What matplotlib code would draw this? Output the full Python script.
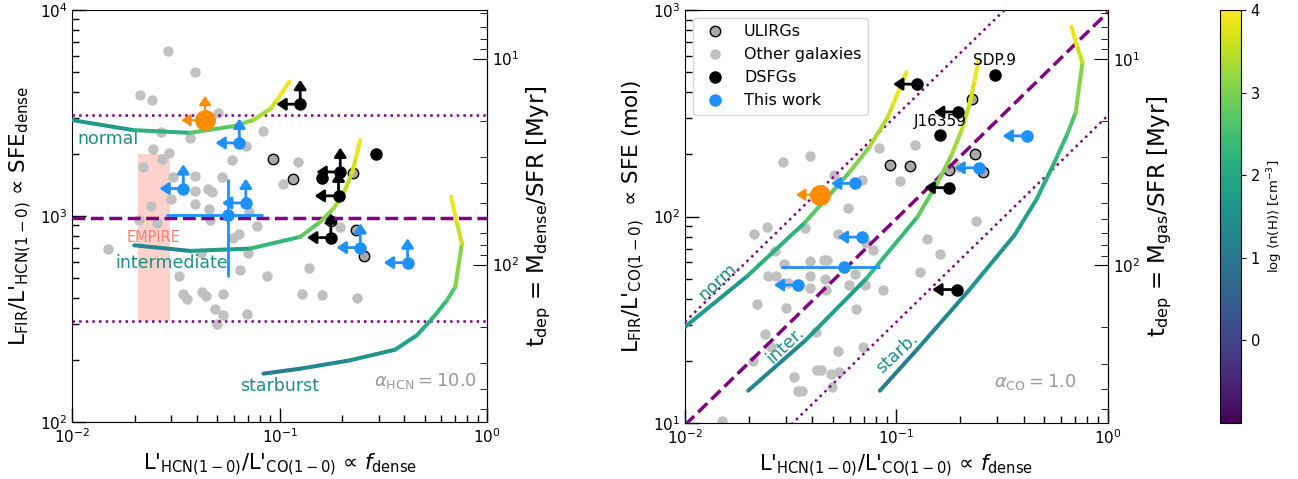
import numpy as np
import matplotlib
matplotlib.use('Agg')
import matplotlib.pyplot as plt
from matplotlib.collections import LineCollection
from matplotlib.colors import Normalize
from matplotlib.cm import ScalarMappable


# other galaxies (f_dense, L_FIR/L'HCN)
other_fdense = [0.0290, 0.0391, 0.0212, 0.0243, 0.0506, 0.0267, 0.0370, 0.0830, 0.0687, 0.0246,
                0.0293, 0.0270, 0.0588, 0.0220, 0.1036, 0.0307, 0.0391, 0.0530, 0.0453, 0.0471,
                0.0391, 0.0299, 0.0391, 0.0240, 0.0458, 0.0715, 0.0776, 0.0462, 0.0210, 0.0255,
                0.0640, 0.0598, 0.0149, 0.0707, 0.0416, 0.0645, 0.0867, 0.0328, 0.0341, 0.0359,
                0.0421, 0.0442, 0.0532, 0.0488, 0.0535, 0.0695, 0.0498, 0.1224, 0.1392, 0.1288,
                0.1598, 0.2373, 0.1959]
other_sfe_dense = [6320, 5012, 3864, 3652, 3148, 2563, 2381, 2592, 2184, 2104,
                   2013, 1902, 1867, 1721, 1438, 1549, 1561, 1549, 1360, 1310,
                   1324, 1203, 1150, 1119, 1087, 1047, 892, 954, 954, 920,
                   822, 778, 690, 662, 662, 550, 510, 510, 420, 397,
                   428, 408, 420, 355, 330, 336, 300, 1820, 560, 420,
                   412, 400, 885]

# ULIRGs
ulirg_fdense = [0.0933, 0.1164, 0.227, 0.234, 0.2564, 0.1774]
ulirg_sfe_dense = [1901, 1510, 1626, 859, 638, 944]

# DSFGs
dsfg_fdense = [0.1256, 0.291, 0.196, 0.1607, 0.1923, 0.1766]
dsfg_sfe_dense = [3491, 1995, 1637, 1538, 1253, 786]
dsfg_sfe_mol = [438, 484, 321, 247, 44.3, 138]
dsfg_limit = [True, False, True, False, True, True]
dsfg_names = ['', 'SDP.9', '', 'J16359', '', '']

# this work
tw_fdense = [0.0639, 0.0343, 0.0687, 0.0562, 0.245, 0.414]
tw_sfe_dense = [2265, 1360, 1158, 1016, 703, 594]
tw_limit = [True, True, True, False, True, True]
# detected source: error ranges
tw_det_fdense_range = [0.0283, 0.0835]
tw_det_sfe_range = [506, 1510]

# orange source
orange_fdense = 0.0437
orange_sfe_dense = 2920

# model tracks
normal_fdense = [0.01, 0.0197, 0.0370, 0.0598, 0.0747, 0.0907, 0.0969, 0.1114]
normal_sfe = [2922, 2612, 2535, 2731, 2922, 3328, 3652, 4487]
normal_logn = [1.5, 1.9, 2.5, 2.9, 3.2, 3.5, 3.7, 4.0]

inter_fdense = [0.0199, 0.0370, 0.0720, 0.1256, 0.1568, 0.1817, 0.2031, 0.2230, 0.2339, 0.2445]
inter_sfe = [721, 677, 695, 792, 936, 1087, 1286, 1609, 1937, 2335]
inter_logn = [1.1, 1.5, 2.1, 2.6, 2.95, 3.2, 3.4, 3.6, 3.8, 4.0]

starb_fdense = [0.0835, 0.1256, 0.2188, 0.3608, 0.459, 0.5524, 0.6409, 0.7029, 0.757, 0.7108, 0.672]
starb_sfe = [171.7, 181.5, 199.3, 224.6, 263.6, 323.3, 389.8, 452.4, 735.3, 954, 1238]
starb_logn = [1.0, 1.2, 1.45, 1.75, 2.0, 2.25, 2.5, 2.75, 3.4, 3.75, 4.0]

# reference SFE line and scatter
sfe_ref = 977
sfe_scatter_dex = 0.5

# EMPIRE range
empire_fdense = [0.0207, 0.0296]
empire_sfe = [310, 2000]

alpha_hcn = 10.0
alpha_co = 1.0
sfr_per_lfir = 1.72e-10

teal = '#1a8f88'
arrow_x = 10**-0.115
arrow_y = 10**0.118
norm = Normalize(vmin=-1, vmax=4)
cmap = plt.get_cmap('viridis')

xlabel = r"L'$_{\rm HCN(1-0)}$/L'$_{\rm CO(1-0)}$ ∝ $f_{\rm dense}$"


def draw_track(ax, x, y, logn):
    segs = [[(x[i], y[i]), (x[i + 1], y[i + 1])] for i in range(len(x) - 1)]
    cols = [cmap(norm(0.5 * (logn[i] + logn[i + 1]))) for i in range(len(x) - 1)]
    lc = LineCollection(segs, colors=cols, linewidths=2.9, zorder=4)
    lc.set_capstyle('round')
    ax.add_collection(lc)


def limit_arrow(ax, x, y, fx=1.0, fy=1.0, color='k', lw=2.0, z=5):
    ax.annotate('', xy=(x * fx, y * fy), xytext=(x, y),
                arrowprops=dict(arrowstyle='-|>,head_length=0.45,head_width=0.3',
                                color=color, lw=lw, shrinkA=0, shrinkB=0,
                                mutation_scale=12), zorder=z)


def style_axes(ax):
    ax.set_xscale('log')
    ax.set_yscale('log')
    ax.tick_params(which='both', direction='in', labelsize=11, right=False, top=False)
    ax.tick_params(which='major', length=10, width=1)
    ax.tick_params(which='minor', length=5, width=1)


def twin_axis(ax, k, label):
    sec = ax.secondary_yaxis('right', functions=(lambda v: k / np.asarray(v, float),
                                                 lambda v: k / np.asarray(v, float)))
    sec.set_yticks([1e1, 1e2])
    sec.tick_params(which='both', direction='in', labelsize=11)
    sec.tick_params(which='major', length=10)
    sec.tick_params(which='minor', length=5)
    sec.set_ylabel(label, fontsize=16.5)
    return sec


fig = plt.figure(figsize=(12.98, 4.79), dpi=100)
ax1 = fig.add_axes([0.0557, 0.119, 0.3195, 0.860])
ax2 = fig.add_axes([0.5277, 0.1169, 0.3259, 0.862])
cax = fig.add_axes([1220 / 1298, 56 / 479, 21 / 1298, 413 / 479])

other_x = np.array(other_fdense)
other_y = np.array(other_sfe_dense)
ul_x = np.array(ulirg_fdense)
ul_y = np.array(ulirg_sfe_dense)
tw_x = np.array(tw_fdense)
tw_y = np.array(tw_sfe_dense)

# ---------------- left panel: SFE_dense
style_axes(ax1)
ax1.fill_between(empire_fdense, empire_sfe[0], empire_sfe[1], color='salmon', alpha=0.35,
                 lw=0, zorder=1)
ax1.text(np.sqrt(empire_fdense[0] * empire_fdense[1]), 790, 'EMPIRE', color='salmon',
         fontsize=10.5, ha='center', va='center', zorder=2)
ax1.plot(other_x, other_y, 'o', color='silver', ms=7.5, mew=0, zorder=2)
ax1.plot(ul_x, ul_y, 'o', mfc='darkgray', mec='k', ms=7.5, mew=1, zorder=2)
ax1.axhline(sfe_ref, color='purple', ls='--', lw=2.5, zorder=3)
ax1.axhline(sfe_ref * 10**sfe_scatter_dex, color='purple', ls=':', lw=1.8, zorder=3)
ax1.axhline(sfe_ref / 10**sfe_scatter_dex, color='purple', ls=':', lw=1.8, zorder=3)

draw_track(ax1, normal_fdense, normal_sfe, normal_logn)
draw_track(ax1, inter_fdense, inter_sfe, inter_logn)
draw_track(ax1, starb_fdense, starb_sfe, starb_logn)

for x, y, lim in zip(dsfg_fdense, dsfg_sfe_dense, dsfg_limit):
    if lim:
        limit_arrow(ax1, x, y, fx=arrow_x, color='k')
        limit_arrow(ax1, x, y, fy=arrow_y, color='k')
ax1.plot(dsfg_fdense, dsfg_sfe_dense, 'o', color='k', ms=8, zorder=6)

for x, y, lim in zip(tw_x, tw_y, tw_limit):
    if lim:
        limit_arrow(ax1, x, y, fx=arrow_x, color='dodgerblue')
        limit_arrow(ax1, x, y, fy=arrow_y, color='dodgerblue')
det = [i for i, l in enumerate(tw_limit) if not l][0]
ax1.errorbar(tw_x[det], tw_y[det],
             xerr=[[tw_x[det] - tw_det_fdense_range[0]], [tw_det_fdense_range[1] - tw_x[det]]],
             yerr=[[tw_y[det] - tw_det_sfe_range[0]], [tw_det_sfe_range[1] - tw_y[det]]],
             fmt='none', ecolor='dodgerblue', elinewidth=2, capsize=0, zorder=5)
ax1.plot(tw_x, tw_y, 'o', color='dodgerblue', ms=8, zorder=6)

limit_arrow(ax1, orange_fdense, orange_sfe_dense, fx=arrow_x, color='darkorange', lw=1.5)
limit_arrow(ax1, orange_fdense, orange_sfe_dense, fy=arrow_y, color='darkorange', lw=1.5)
ax1.plot(orange_fdense, orange_sfe_dense, 'o', color='darkorange', ms=14, zorder=6)

ax1.text(0.0106, 2360, 'normal', color=teal, fontsize=12.5, va='center')
ax1.text(0.0161, 590, 'intermediate', color=teal, fontsize=12.5, va='center')
ax1.text(0.0644, 149, 'starburst', color=teal, fontsize=12.5, va='center')
ax1.text(0.976, 0.10, r'$\alpha_{\rm HCN} = $' + f'{alpha_hcn:.1f}', color='#999999',
         fontsize=13, ha='right', va='center', transform=ax1.transAxes)

ax1.set_xlim(1e-2, 1)
ax1.set_ylim(1e2, 1e4)
ax1.set_xlabel(xlabel, fontsize=15)
ax1.set_ylabel(r"L$_{\rm FIR}$/L'$_{\rm HCN(1-0)}$ ∝ SFE$_{\rm dense}$", fontsize=15.5)
twin_axis(ax1, alpha_hcn / (sfr_per_lfir * 1e6),
          r"t$_{\rm dep}$ = M$_{\rm dense}$/SFR [Myr]")

# ---------------- right panel: SFE (mol)
style_axes(ax2)
h_other, = ax2.plot(other_x, other_y * other_x, 'o', color='silver', ms=7.5, mew=0, zorder=2,
                    label='Other galaxies')
h_ul, = ax2.plot(ul_x, ul_y * ul_x, 'o', mfc='darkgray', mec='k', ms=7.5, mew=1, zorder=2,
                 label='ULIRGs')
xx = np.array([1e-2, 1.0])
ax2.plot(xx, sfe_ref * xx, color='purple', ls='--', lw=2.5, zorder=3)
ax2.plot(xx, sfe_ref * 10**sfe_scatter_dex * xx, color='purple', ls=':', lw=1.8, zorder=3)
ax2.plot(xx, sfe_ref / 10**sfe_scatter_dex * xx, color='purple', ls=':', lw=1.8, zorder=3)

draw_track(ax2, normal_fdense, np.array(normal_sfe) * np.array(normal_fdense), normal_logn)
draw_track(ax2, inter_fdense, np.array(inter_sfe) * np.array(inter_fdense), inter_logn)
draw_track(ax2, starb_fdense, np.array(starb_sfe) * np.array(starb_fdense), starb_logn)

for x, y, lim, name in zip(dsfg_fdense, dsfg_sfe_mol, dsfg_limit, dsfg_names):
    if lim:
        limit_arrow(ax2, x, y, fx=arrow_x, color='k')
    if name:
        ax2.annotate(name, (x, y), xytext=(0, 5), textcoords='offset points',
                     ha='center', va='bottom', fontsize=11, zorder=7)
h_dsfg, = ax2.plot(dsfg_fdense, dsfg_sfe_mol, 'o', color='k', ms=8, zorder=6, label='DSFGs')

for x, y, lim in zip(tw_x, tw_y * tw_x, tw_limit):
    if lim:
        limit_arrow(ax2, x, y, fx=arrow_x, color='dodgerblue')
ax2.errorbar(tw_x[det], tw_y[det] * tw_x[det],
             xerr=[[tw_x[det] - tw_det_fdense_range[0]], [tw_det_fdense_range[1] - tw_x[det]]],
             fmt='none', ecolor='dodgerblue', elinewidth=2, capsize=0, zorder=5)
h_tw, = ax2.plot(tw_x, tw_y * tw_x, 'o', color='dodgerblue', ms=8, zorder=6, label='This work')

limit_arrow(ax2, orange_fdense, orange_sfe_dense * orange_fdense, fx=arrow_x,
            color='darkorange', lw=1.5)
ax2.plot(orange_fdense, orange_sfe_dense * orange_fdense, 'o', color='darkorange', ms=14, zorder=6)

ax2.text(0.01466, 49.1, 'norm.', color=teal, fontsize=12.5, rotation=43,
         ha='center', va='center')
ax2.text(0.0297, 23.8, 'inter.', color=teal, fontsize=12.5, rotation=43,
         ha='center', va='center')
ax2.text(0.1004, 21.7, 'starb.', color=teal, fontsize=12.5, rotation=43,
         ha='center', va='center')
ax2.text(0.926, 0.10, r'$\alpha_{\rm CO} = $' + f'{alpha_co:.1f}', color='#999999',
         fontsize=13, ha='right', va='center', transform=ax2.transAxes)

ax2.set_xlim(1e-2, 1)
ax2.set_ylim(1e1, 1e3)
ax2.set_xlabel(xlabel, fontsize=15)
ax2.set_ylabel(r"L$_{\rm FIR}$/L'$_{\rm CO(1-0)}$  ∝ SFE (mol)", fontsize=15.5)
ax2.legend(handles=[h_ul, h_other, h_dsfg, h_tw], loc='upper left', fontsize=11.5)
twin_axis(ax2, alpha_co / (sfr_per_lfir * 1e6),
          r"t$_{\rm dep}$ = M$_{\rm gas}$/SFR [Myr]")

# ---------------- colorbar
cb = fig.colorbar(ScalarMappable(norm=norm, cmap=cmap), cax=cax)
cb.set_ticks([0, 1, 2, 3, 4])
cb.ax.tick_params(labelsize=10.5)
cb.set_label(r'log $\langle$n(H)$\rangle$ [cm$^{-3}$]', fontsize=9.5)

fig.savefig('out.png', dpi=100)
